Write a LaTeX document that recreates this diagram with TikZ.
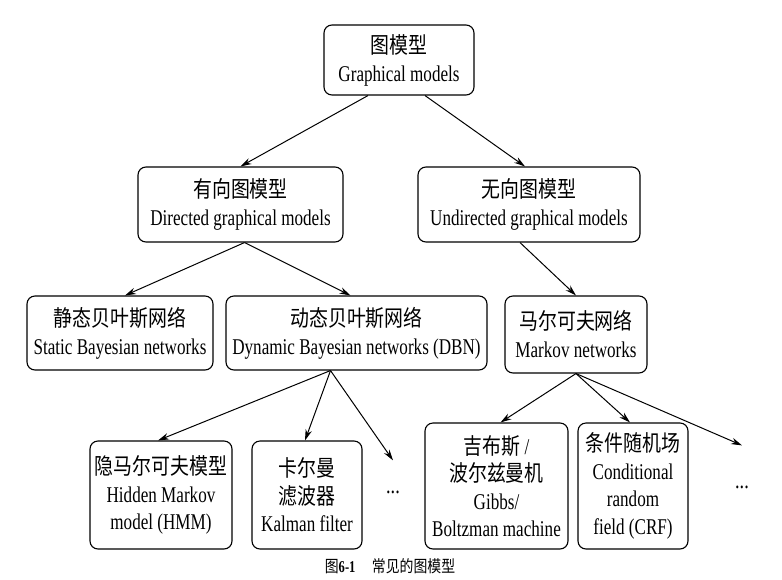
\documentclass[tikz,border=0pt]{standalone}
\usepackage{fontspec}
\setmainfont{Liberation Serif}[FakeStretch=0.76]
\newfontfamily\cjk{Noto Sans CJK SC}[FakeStretch=0.84]
\usetikzlibrary{arrows.meta}
\newcommand\zh[1]{{\cjk #1}}
\begin{document}
\begin{tikzpicture}[x=1pt,y={(0pt,-1pt)},
  box/.style={draw, line width=1.1pt, rounded corners=8pt, align=center, inner sep=2pt,
    font=\fontsize{22.5}{28}\selectfont},
  tallbox/.style={box, font=\fontsize{22.5}{27.5}\selectfont},
  arr/.style={-{Stealth[length=11pt,width=6.5pt]}, line width=1pt},
  dotsnode/.style={font=\fontsize{24}{28}\selectfont, inner sep=0pt}]
\useasboundingbox (0,0) rectangle (782,579);
\fill[white] (0,0) rectangle (782,579);

\node[box, minimum width=150pt, minimum height=70pt] (top) at (399,60) {\zh{图模型}\\Graphical models};
\node[box, minimum width=205pt, minimum height=75pt] (dir) at (240.5,204.5) {\zh{有向图模型}\\Directed graphical models};
\node[box, minimum width=222pt, minimum height=75pt] (undir) at (529,204.5) {\zh{无向图模型}\\Undirected graphical models};
\node[box, minimum width=186pt, minimum height=74pt] (static) at (120,333) {\zh{静态贝叶斯网络}\\Static Bayesian networks};
\node[box, minimum width=261pt, minimum height=74pt] (dyn) at (356.5,333) {\zh{动态贝叶斯网络}\\Dynamic Bayesian networks (DBN)};
\node[box, minimum width=142pt, minimum height=77pt] (markov) at (576,334.5) {\zh{马尔可夫网络}\\Markov networks};
\node[tallbox, minimum width=142pt, minimum height=108pt] (hmm) at (161,495) {\zh{隐马尔可夫模型}\\Hidden Markov\\model (HMM)};
\node[tallbox, minimum width=110pt, minimum height=108pt] (kal) at (307,495) {\zh{卡尔曼}\\\zh{滤波器}\\Kalman filter};
\node[tallbox, minimum width=143pt, minimum height=126pt] (gibbs) at (496.5,486) {\zh{吉布斯} /\\\zh{波尔兹曼机}\\Gibbs/\\Boltzman machine};
\node[tallbox, minimum width=110pt, minimum height=126pt] (crf) at (633,486) {\zh{条件随机场}\\Conditional\\random\\field (CRF)};
\node[dotsnode] (d1) at (393,492) {...};
\node[dotsnode] (d2) at (742,487) {...};
\node[font=\fontsize{16.5}{18}\selectfont, inner sep=0pt] (cap) at (390,566) {\zh{图}\textbf{6-1}\quad\zh{常见的图模型}};

\coordinate (t1) at ([xshift=-31pt]top.south);
\coordinate (t2) at ([xshift=26pt]top.south);
\draw[arr] (t1) -- ([xshift=0pt]dir.north);
\draw[arr] (t2) -- ([xshift=-4pt]undir.north);
\coordinate (dsrc) at ([xshift=4pt]dir.south);
\draw[arr] (dsrc) -- ([xshift=5pt]static.north);
\draw[arr] (dsrc) -- ([xshift=-6pt]dyn.north);
\draw[arr] ([xshift=-9pt]undir.south) -- (markov.north);
\coordinate (ysrc) at ([xshift=-26pt]dyn.south);
\draw[arr] (ysrc) -- ([xshift=-3pt]hmm.north);
\draw[arr] (ysrc) -- ([xshift=-2pt]kal.north);
\draw[arr] (ysrc) -- ([yshift=30pt]d1.north);
\coordinate (msrc) at (markov.south);
\draw[arr] (msrc) -- ([xshift=4pt]gibbs.north);
\draw[arr] (msrc) -- ([xshift=-3pt]crf.north);
\draw[arr] (msrc) -- ([yshift=40pt]d2.north);
\end{tikzpicture}
\end{document}
